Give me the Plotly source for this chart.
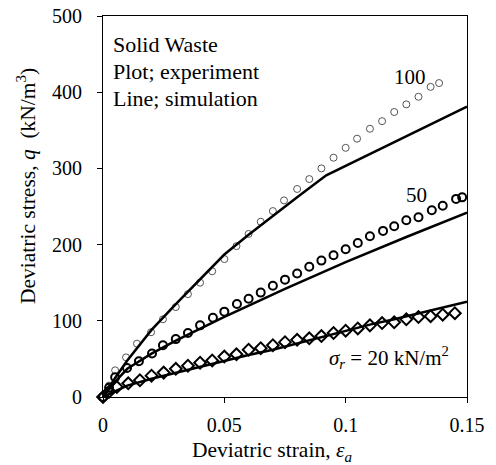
import plotly.graph_objects as go

# ---- experiment data (markers) ----
x_exp100 = [0, 0.0025, 0.005, 0.0095, 0.014, 0.0198, 0.0247, 0.030, 0.035, 0.040, 0.045, 0.050,
            0.055, 0.060, 0.065, 0.070, 0.0746, 0.080, 0.085, 0.090, 0.095, 0.100,
            0.1047, 0.110, 0.115, 0.120, 0.125, 0.130, 0.135, 0.1385]
q_exp100 = [0, 15, 35, 52, 70, 85, 102, 118, 135, 150, 165, 181,
            198, 214, 230, 244, 258, 273, 286, 300, 314, 327,
            339, 352, 362, 374, 384, 394, 407, 412]

x_exp50 = [0, 0.0025, 0.005, 0.0099, 0.0148, 0.0202, 0.0247, 0.030, 0.035, 0.040, 0.0453, 0.050,
           0.0552, 0.060, 0.065, 0.070, 0.075, 0.080, 0.085, 0.090, 0.095, 0.100,
           0.105, 0.110, 0.1154, 0.120, 0.125, 0.130, 0.1355, 0.140, 0.1455, 0.148]
q_exp50 = [0, 12, 26, 38, 47, 57, 68, 76, 84, 94, 104, 112,
           122, 129, 137, 146, 154, 162, 171, 179, 186, 194,
           202, 211, 218, 224, 232, 236, 245, 251, 260, 262]

x_exp20 = [0, 0.0025, 0.0057, 0.0104, 0.0152, 0.020, 0.025, 0.030, 0.035, 0.040, 0.045, 0.050,
           0.055, 0.060, 0.065, 0.070, 0.075, 0.080, 0.085, 0.090, 0.095, 0.100,
           0.105, 0.110, 0.115, 0.120, 0.125, 0.130, 0.135, 0.140, 0.145]
q_exp20 = [0, 7, 13, 18, 22, 28, 32, 37, 41, 45, 48, 53,
           56, 62, 64, 68, 72, 75, 77, 80, 84, 87,
           90, 94, 97, 98, 102, 105, 106, 108, 110]

# ---- simulation (lines) ----
x_sim100 = [0, 0.005, 0.01, 0.02, 0.03, 0.04, 0.05, 0.06, 0.07, 0.08, 0.092, 0.15]
q_sim100 = [0, 25, 48, 88, 122, 155, 187, 213, 237, 262, 291, 381]

x_sim50 = [0, 0.005, 0.01, 0.02, 0.03, 0.05, 0.075, 0.1, 0.125, 0.15]
q_sim50 = [0, 20, 37, 57, 74, 105, 142, 177, 210, 242]

x_sim20 = [0, 0.01, 0.02, 0.03, 0.04, 0.05, 0.06, 0.07, 0.08, 0.09, 0.10, 0.11, 0.12, 0.13, 0.14, 0.15]
q_sim20 = [0, 15, 24, 32, 40, 47, 55, 62, 70, 79, 87, 95, 102, 110, 118, 125]

x_ticks = [0, 0.05, 0.1, 0.15]
x_tick_labels = ["0", "0.05", "0.1", "0.15"]
y_ticks = [0, 100, 200, 300, 400, 500]

FONT = "Liberation Serif, Times New Roman, serif"

fig = go.Figure()

fig.add_trace(go.Scatter(x=x_exp100, y=q_exp100, mode="markers", cliponaxis=False,
                         marker=dict(symbol="circle-open", size=7, color="#555555",
                                     line=dict(width=1, color="#555555"))))
fig.add_trace(go.Scatter(x=x_exp50, y=q_exp50, mode="markers", cliponaxis=False,
                         marker=dict(symbol="circle-open", size=8, color="black",
                                     line=dict(width=2, color="black"))))
fig.add_trace(go.Scatter(x=x_exp20, y=q_exp20, mode="markers", cliponaxis=False,
                         marker=dict(symbol="diamond-open", size=9, color="black",
                                     line=dict(width=2, color="black"))))

for xs, qs in [(x_sim100, q_sim100), (x_sim50, q_sim50), (x_sim20, q_sim20)]:
    fig.add_trace(go.Scatter(x=xs, y=qs, mode="lines",
                             line=dict(color="black", width=2.5)))

fig.update_layout(
    width=496, height=465,
    margin=dict(l=103, r=29, t=16, b=68),
    paper_bgcolor="white", plot_bgcolor="white",
    showlegend=False,
    font=dict(family=FONT, size=20, color="black"),
)
fig.update_xaxes(range=[0, 0.15], tickvals=x_ticks, ticktext=x_tick_labels,
                 automargin=False, ticklabelstandoff=5,
                 showgrid=False, zeroline=False, showline=True, linecolor="black",
                 linewidth=1, mirror=True, ticks="outside", ticklen=5, tickcolor="black")
fig.update_yaxes(range=[0, 500], tickvals=y_ticks,
                 automargin=False, ticklabelstandoff=11,
                 showgrid=False, zeroline=False, showline=True, linecolor="black",
                 linewidth=1, mirror=True, ticks="outside", ticklen=5, tickcolor="black")

# axis titles
fig.add_annotation(text="Deviatric strain, <i>ε<sub>a</sub></i>", xref="paper", yref="paper",
                   x=(272 - 103) / 364, y=(397 - 451) / 381, showarrow=False,
                   xanchor="center", yanchor="middle", font=dict(family=FONT, size=21.5))
fig.add_annotation(text="Deviatric stress, <i>q</i>  (kN/m<sup>3</sup>)", xref="paper", yref="paper",
                   x=(26 - 103) / 364, y=(397 - 186) / 381, showarrow=False, textangle=-90,
                   xanchor="center", yanchor="middle", font=dict(family=FONT, size=21.5))

for txt, yy in [("Solid Waste", 44), ("Plot; experiment", 71), ("Line; simulation", 98)]:
    fig.add_annotation(text=txt, xref="paper", yref="paper",
                       x=(111 - 103) / 364, y=(397 - yy) / 381,
                       xanchor="left", yanchor="middle", showarrow=False,
                       font=dict(family=FONT, size=22))

fig.add_annotation(text="100", x=0.1265, y=420, showarrow=False,
                   xanchor="center", yanchor="middle", font=dict(family=FONT, size=21))
fig.add_annotation(text="50", x=0.1293, y=265, showarrow=False,
                   xanchor="center", yanchor="middle", font=dict(family=FONT, size=21))
fig.add_annotation(text="<i>σ<sub>r</sub></i> = 20 kN/m<sup>2</sup>", x=0.118, y=52,
                   showarrow=False, xanchor="center", yanchor="middle",
                   font=dict(family=FONT, size=21))

fig.write_html("out.html", config={"displayModeBar": False},
               post_script="document.body.style.margin='0px';")
